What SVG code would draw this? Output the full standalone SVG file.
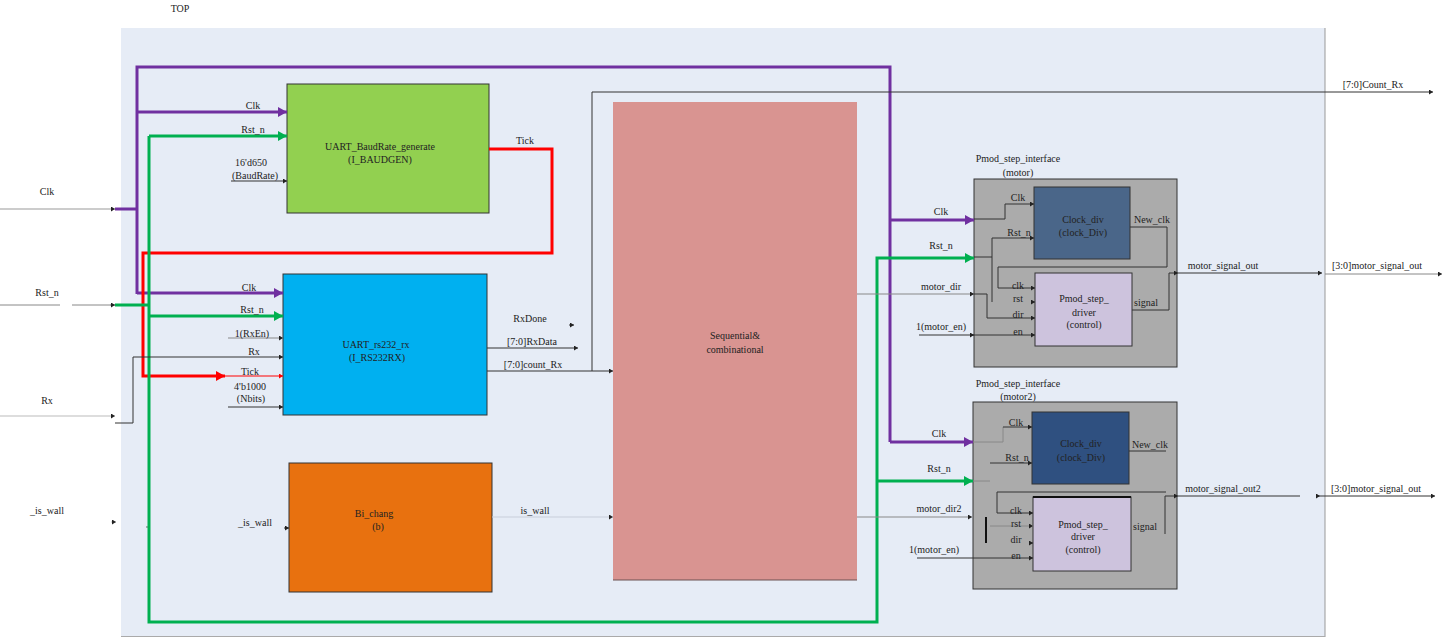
<svg xmlns="http://www.w3.org/2000/svg" width="1444" height="638" viewBox="0 0 1444 638" font-family="'Liberation Serif', 'DejaVu Serif', 'Times New Roman', serif">
  <style>
    text { font-family: "Liberation Serif", "DejaVu Serif", "Times New Roman", serif; font-size: 10px; fill: #222; text-anchor: middle; }
    .bus { fill: none; stroke-width: 3; }
    .p { stroke: #7030A0; }
    .g { stroke: #00B050; }
    .r { stroke: #FF0000; }
    .w { fill: none; stroke: #333; stroke-width: 1; }
    .lw { fill: none; stroke: #888; stroke-width: 1; }
  </style>
  <defs>
    <marker id="aP" markerUnits="userSpaceOnUse" markerWidth="10" markerHeight="10" refX="9" refY="5" orient="auto">
      <path d="M0,0 L9,5 L0,10 z" fill="#7030A0"/>
    </marker>
    <marker id="aG" markerUnits="userSpaceOnUse" markerWidth="10" markerHeight="10" refX="9" refY="5" orient="auto">
      <path d="M0,0 L9,5 L0,10 z" fill="#00B050"/>
    </marker>
    <marker id="aR" markerUnits="userSpaceOnUse" markerWidth="10" markerHeight="10" refX="9" refY="5" orient="auto">
      <path d="M0,0 L9,5 L0,10 z" fill="#FF0000"/>
    </marker>
    <marker id="aK" markerUnits="userSpaceOnUse" markerWidth="5" markerHeight="5" refX="4" refY="2.5" orient="auto">
      <path d="M0,0 L4,2.5 L0,5 z" fill="#222"/>
    </marker>
    <marker id="ar" markerUnits="userSpaceOnUse" markerWidth="5" markerHeight="5" refX="4" refY="2.5" orient="auto">
      <path d="M0,0 L4,2.5 L0,5 z" fill="#FF0000"/>
    </marker>
  </defs>

  <!-- top-level frame -->
  <rect x="121" y="28" width="1204" height="608" fill="#E6ECF6"/>
  <line x1="1325" y1="28" x2="1325" y2="637" stroke="#999" stroke-width="1"/>
  <line x1="121" y1="636.5" x2="1325" y2="636.5" stroke="#AAA" stroke-width="1"/>
  <text x="180" y="12">TOP</text>

  <!-- module blocks -->
  <g id="baudgen">
    <rect x="287" y="84" width="202" height="129" fill="#92D050" stroke="#333" stroke-width="1"/>
    <text x="380" y="150">UART_BaudRate_generate</text>
    <text x="380" y="163">(I_BAUDGEN)</text>
  </g>
  <g id="rs232rx">
    <rect x="283" y="274" width="204" height="141" fill="#00B0F0" stroke="#333" stroke-width="1"/>
    <text x="376" y="348">UART_rs232_rx</text>
    <text x="377" y="361">(I_RS232RX)</text>
  </g>
  <g id="bichang">
    <rect x="289" y="463" width="203" height="129" fill="#E8710F" stroke="#333" stroke-width="1"/>
    <text x="374" y="517">Bi_chang</text>
    <text x="378" y="530">(b)</text>
  </g>
  <g id="seqcomb">
    <rect x="613" y="102" width="244" height="478" fill="#D99491"/>
    <line x1="613" y1="580" x2="857" y2="580" stroke="#6B5050" stroke-width="1"/>
    <text x="735" y="339">Sequential&amp;</text>
    <text x="735" y="353">combinational</text>
  </g>

  <g id="motor">
    <text x="1018" y="162">Pmod_step_interface</text>
    <text x="1018" y="176">(motor)</text>
    <rect x="974" y="179" width="203" height="188" fill="#ABABAB" stroke="#333" stroke-width="1"/>
    <rect x="1034" y="187" width="96" height="72" fill="#4A6689" stroke="#333" stroke-width="1"/>
    <text x="1083" y="223">Clock_div</text>
    <text x="1083" y="236">(clock_Div)</text>
    <rect x="1035" y="273" width="97" height="73" fill="#CDC3DD" stroke="#333" stroke-width="1"/>
    <text x="1084" y="302">Pmod_step_</text>
    <text x="1084" y="316">driver</text>
    <text x="1084" y="328">(control)</text>
    <!-- internal wiring -->
    <path class="w" d="M974,219 H1005 V204 H1034" marker-end="url(#aK)"/>
    <path class="w" d="M974,257 H992"/>
    <path class="w" d="M992,302 V238 H1034" marker-end="url(#aK)"/>
    <line class="w" x1="1031" y1="302" x2="1035" y2="302" marker-end="url(#aK)"/>
    <path class="w" d="M1130,227 H1167 V267 H998 V288 H1035" marker-end="url(#aK)"/>
    <path class="w" d="M972,294 H987 V318 H1035" marker-end="url(#aK)"/>
    <line class="w" x1="972" y1="335" x2="1035" y2="335" marker-end="url(#aK)"/>
    <path class="w" d="M1132,310 H1169 V273 H1178" marker-end="url(#aK)"/>
    <text x="1018" y="201">Clk</text>
    <text x="1019" y="236">Rst_n</text>
    <text x="1018" y="289">clk</text>
    <text x="1018" y="302">rst</text>
    <text x="1018" y="318">dir</text>
    <text x="1018" y="335">en</text>
    <text x="1152" y="223">New_clk</text>
    <text x="1146" y="306">signal</text>
  </g>

  <g id="motor2">
    <text x="1018" y="387">Pmod_step_interface</text>
    <text x="1018" y="400">(motor2)</text>
    <rect x="973" y="402" width="204" height="187" fill="#ABABAB" stroke="#333" stroke-width="1"/>
    <rect x="1032" y="412" width="97" height="72" fill="#2F5080" stroke="#333" stroke-width="1"/>
    <text x="1081" y="447">Clock_div</text>
    <text x="1081" y="461">(clock_Div)</text>
    <rect x="1033" y="497" width="98" height="74" fill="#CDC3DD" stroke="#333" stroke-width="1"/>
    <line x1="1033" y1="497" x2="1131" y2="497" stroke="#111" stroke-width="2"/>
    <text x="1083" y="528">Pmod_step_</text>
    <text x="1083" y="540">driver</text>
    <text x="1083" y="553">(control)</text>
    <!-- internal wiring -->
    <path class="lw" d="M973,442 H1003 V427"/>
    <path class="w" d="M1003,427 H1032" marker-end="url(#aK)"/>
    <line class="lw" x1="973" y1="481" x2="990" y2="481"/>
    <line class="w" x1="990" y1="463" x2="1032" y2="463" marker-end="url(#aK)"/>
    <line class="w" x1="1129" y1="451" x2="1166" y2="451"/>
    <path class="w" d="M1166,492 H997 V513 H1033" marker-end="url(#aK)"/>
    <line class="lw" x1="990" y1="526" x2="1033" y2="526" marker-end="url(#aK)"/>
    <line x1="986" y1="517" x2="986" y2="543" stroke="#111" stroke-width="2"/>
    <line class="w" x1="1029" y1="543" x2="1033" y2="543" marker-end="url(#aK)"/>
    <line class="w" x1="917" y1="558" x2="1033" y2="558" marker-end="url(#aK)"/>
    <line class="w" x1="1165" y1="496" x2="1165" y2="534"/>
    <line class="w" x1="1165" y1="496" x2="1178" y2="496" marker-end="url(#aK)"/>
    <text x="1016" y="426">Clk</text>
    <text x="1017" y="461">Rst_n</text>
    <text x="1016" y="514">clk</text>
    <text x="1016" y="527">rst</text>
    <text x="1016" y="543">dir</text>
    <text x="1016" y="559">en</text>
    <text x="1150" y="448">New_clk</text>
    <text x="1145" y="530">signal</text>
  </g>

  <!-- nets -->
  <g id="connectors">
    <!-- primary inputs -->
    <line x1="0" y1="209" x2="115" y2="209" stroke="#999" stroke-width="1" marker-end="url(#aK)"/>
    <path d="M0,305 H60 M72,305 H115" stroke="#888" stroke-width="1" fill="none"/>
    <line x1="110" y1="305" x2="115" y2="305" stroke="#888" stroke-width="1" marker-end="url(#aK)"/>
    <line x1="0" y1="416" x2="115" y2="416" stroke="#bbb" stroke-width="1" marker-end="url(#aK)"/>
    <line x1="111" y1="522" x2="116" y2="522" stroke="#bbb" stroke-width="1" marker-end="url(#aK)"/>
    <line x1="146" y1="527" x2="150" y2="527" stroke="#666" stroke-width="1"/>

    <!-- Clk distribution -->
    <path class="bus p" d="M115,209 H137"/>
    <path class="bus p" d="M137,294 V67 H890 V442"/>
    <path class="bus p" d="M137,112 H287" marker-end="url(#aP)"/>
    <path class="bus p" d="M137,293 H283" marker-end="url(#aP)"/>
    <path class="bus p" d="M890,220 H974" marker-end="url(#aP)"/>
    <path class="bus p" d="M890,442 H973" marker-end="url(#aP)"/>

    <!-- Tick -->
    <path class="bus r" d="M489,149 H552 V253 H143 V376 H225" marker-end="url(#aR)"/>
    <line x1="225" y1="376" x2="283" y2="376" stroke="#FF0000" stroke-width="1" marker-end="url(#ar)"/>

    <!-- Rst_n distribution -->
    <path class="bus g" d="M115,305 H149"/>
    <path class="bus g" d="M149,136 V622 H877 V258 H974" marker-end="url(#aG)"/>
    <path class="bus g" d="M149,136 H287" marker-end="url(#aG)"/>
    <path class="bus g" d="M149,316 H283" marker-end="url(#aG)"/>
    <path class="bus g" d="M877,481 H973" marker-end="url(#aG)"/>

    <!-- fixed parameters and data -->
    <line class="w" x1="231" y1="181" x2="287" y2="181" marker-end="url(#aK)"/>
    <line class="lw" x1="228" y1="338" x2="283" y2="338" marker-end="url(#aK)"/>
    <path class="w" d="M115,423 H133 V357 H283" marker-end="url(#aK)"/>
    <line class="w" x1="228" y1="407" x2="283" y2="407" marker-end="url(#aK)"/>
    <line class="w" x1="569" y1="325" x2="574" y2="325" marker-end="url(#aK)"/>
    <line class="w" x1="487" y1="348" x2="578" y2="348" marker-end="url(#aK)"/>
    <line class="w" x1="487" y1="371" x2="613" y2="371" marker-end="url(#aK)"/>
    <path class="w" d="M592,371 V92 H1433" marker-end="url(#aK)"/>
    <line x1="284" y1="528" x2="289" y2="528" stroke="#333" stroke-width="1" marker-end="url(#aK)"/>
    <line x1="492" y1="517" x2="613" y2="517" stroke="#C8CEDA" stroke-width="1" marker-end="url(#aK)"/>

    <!-- motor control outputs -->
    <line class="lw" x1="857" y1="294" x2="974" y2="294" marker-end="url(#aK)"/>
    <line class="w" x1="919" y1="335" x2="974" y2="335" marker-end="url(#aK)"/>
    <line class="lw" x1="857" y1="517" x2="972" y2="517" marker-end="url(#aK)"/>

    <!-- step outputs -->
    <line class="w" x1="1178" y1="273" x2="1322" y2="273" marker-end="url(#aK)"/>
    <line class="lw" x1="1325" y1="274" x2="1442" y2="274" marker-end="url(#aK)"/>
    <line class="w" x1="1178" y1="496" x2="1300" y2="496"/>
    <line class="w" x1="1316" y1="496" x2="1320" y2="496" marker-end="url(#aK)"/>
    <line class="w" x1="1320" y1="496" x2="1435" y2="496" marker-end="url(#aK)"/>
  </g>

  <!-- net labels -->
  <g id="labels">
    <text x="47" y="195">Clk</text>
    <text x="47" y="296">Rst_n</text>
    <text x="47" y="404">Rx</text>
    <text x="47" y="514">_is_wall</text>
    <text x="253" y="109">Clk</text>
    <text x="253" y="133">Rst_n</text>
    <text x="251" y="166">16'd650</text>
    <text x="255" y="179">(BaudRate)</text>
    <text x="525" y="144">Tick</text>
    <text x="249" y="291">Clk</text>
    <text x="252" y="313">Rst_n</text>
    <text x="252" y="337">1(RxEn)</text>
    <text x="254" y="355">Rx</text>
    <text x="250" y="375">Tick</text>
    <text x="250" y="390">4'b1000</text>
    <text x="251" y="402">(Nbits)</text>
    <text x="530" y="322">RxDone</text>
    <text x="532" y="345">[7:0]RxData</text>
    <text x="533" y="368">[7:0]count_Rx</text>
    <text x="255" y="526">_is_wall</text>
    <text x="535" y="514">is_wall</text>
    <text x="1373" y="88">[7:0]Count_Rx</text>
    <text x="941" y="215">Clk</text>
    <text x="941" y="249">Rst_n</text>
    <text x="941" y="290">motor_dir</text>
    <text x="941" y="330">1(motor_en)</text>
    <text x="939" y="437">Clk</text>
    <text x="939" y="472">Rst_n</text>
    <text x="939" y="512">motor_dir2</text>
    <text x="934" y="553">1(motor_en)</text>
    <text x="1223" y="269">motor_signal_out</text>
    <text x="1377" y="269">[3:0]motor_signal_out</text>
    <text x="1223" y="492">motor_signal_out2</text>
    <text x="1376" y="492">[3:0]motor_signal_out</text>
  </g>
</svg>
